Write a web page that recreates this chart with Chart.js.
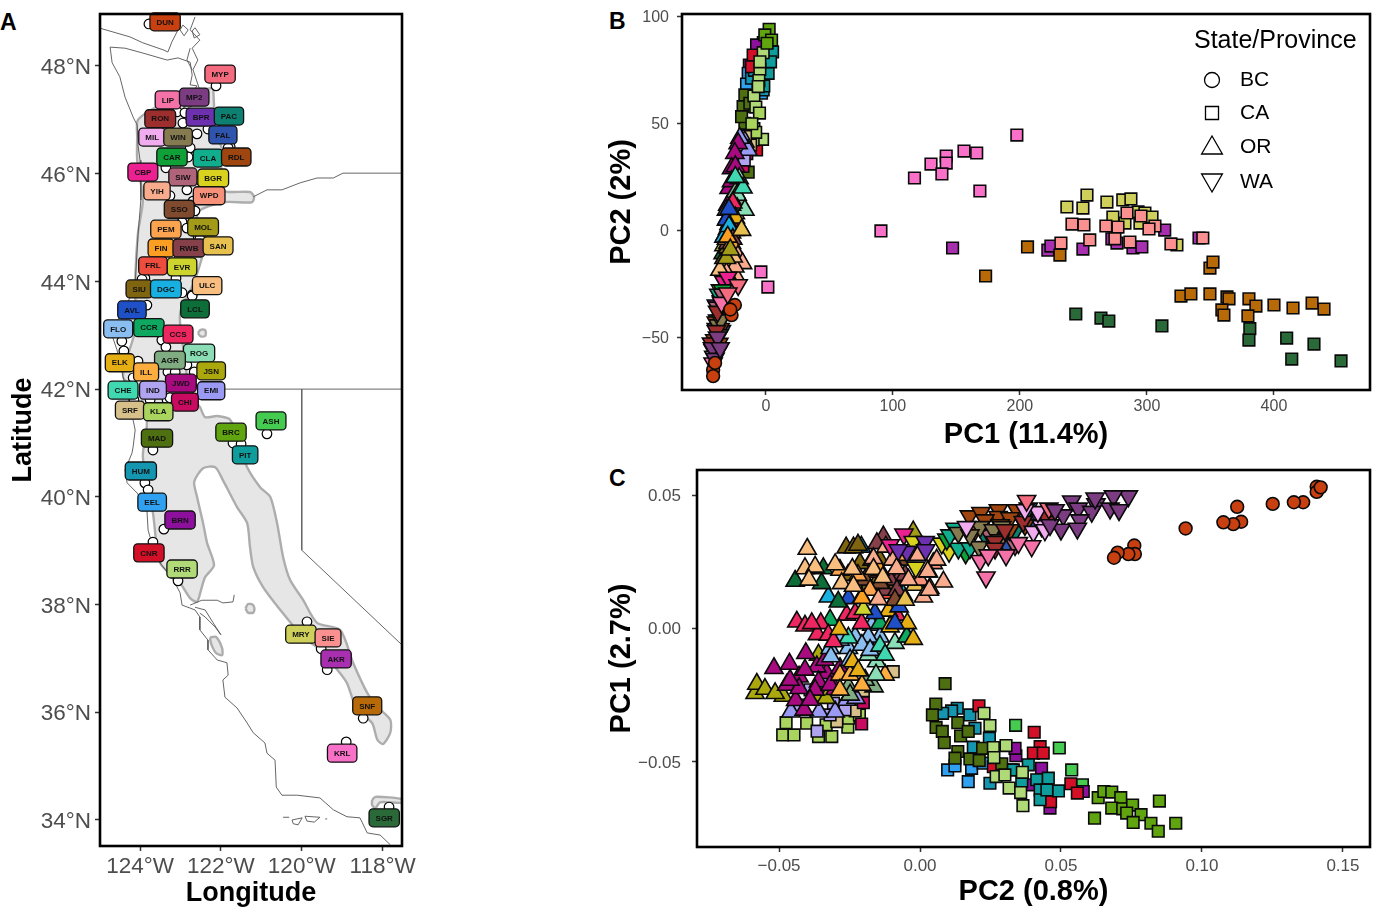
<!DOCTYPE html>
<html><head><meta charset="utf-8">
<script src="https://cdn.jsdelivr.net/npm/chart.js@4"></script>
<style>
html,body{margin:0;padding:0;background:#fff;width:1384px;height:917px;overflow:hidden}
canvas{position:absolute}
.letter{position:absolute;font:bold 23px "Liberation Sans",Arial,sans-serif;color:#000;line-height:26px}
</style></head><body>
<div class="letter" style="left:0;top:9px">A</div>
<div class="letter" style="left:609px;top:8px">B</div>
<div class="letter" style="left:609px;top:465px">C</div>
<canvas id="a" width="430" height="917" style="left:0;top:0"></canvas>
<canvas id="b" width="794" height="452" style="left:590px;top:0"></canvas>
<canvas id="c" width="794" height="462" style="left:590px;top:455px"></canvas>
<script>
// ---------- axis ticks ----------
var lonTicks=[-124,-122,-120,-118];
var lonTickLabels=['124°W','122°W','120°W','118°W'];
var latTicks=[34,36,38,40,42,44,46,48];
var latTickLabels=['34°N','36°N','38°N','40°N','42°N','44°N','46°N','48°N'];
var bxTicks=[0,100,200,300,400];
var byTicks=[-50,0,50,100];
var byTickLabels=['−50','0','50','100'];
var cxTicks=[-0.05,0,0.05,0.10,0.15];
var cxTickLabels=['−0.05','0.00','0.05','0.10','0.15'];
var cyTicks=[-0.05,0,0.05];
var cyTickLabels=['−0.05','0.00','0.05'];
// ---------- populations ----------
var popsBC=['DUN'];
var popsCA=['ASH','BRN','EEL','HUM','CNR','MAD','PIT','RRR','BRC','KLA','SRF','CHI','IND','KRL','AKR','SNF','SGR','MRY','SIE'];
var popsOR=['EMI','JSN','JWD','AGR','ILL','ROG','FLO','CHE','CCR','CCS','ELK','AVL','EVR','DGC','LCL','FRL','SIU','RWB','SSO','PEM','FIN','SAN','WPD','YIH','ULC','MOL'];
var popsWA=['CBP','BGR','BPR','CAR','CLA','PAC','FAL','SIW','RDL','WIN','RON','MIL','LIP','MYP','MP2'];
var popColors={DUN:'#C8400F',MYP:'#F46B7F',LIP:'#F472A8',MP2:'#7B3C82',RON:'#9C2E2E',BPR:'#6D31B0',PAC:'#0E8071',MIL:'#F0ACEF',WIN:'#857A50',FAL:'#2F54AD',CAR:'#0FA038',CLA:'#10AE8C',RDL:'#9E4510',CBP:'#EC2090',SIW:'#B0647A',BGR:'#D9D21E',YIH:'#F9AC8D',WPD:'#F79078',SSO:'#7F4A2E',PEM:'#FBA34F',MOL:'#A39B18',FIN:'#FB9E22',RWB:'#85404A',SAN:'#E8C050',FRL:'#EE4C3C',EVR:'#CDD42E',SIU:'#7F6510',DGC:'#18B0E0',ULC:'#F7BE80',LCL:'#0E6E3A',AVL:'#1F50C8',FLO:'#8BBEF0',CCR:'#0EA860',CCS:'#EE2760',ROG:'#8ADDB4',ELK:'#E5AE14',ILL:'#FBAD40',AGR:'#80AC82',JSN:'#ABA80E',JWD:'#A80A80',CHE:'#40D8B0',IND:'#B0A4F0',EMI:'#9A9AF5',CHI:'#C80A60',SRF:'#D8C08A',KLA:'#A9D45E',MAD:'#4F7010',BRC:'#60A410',ASH:'#45CC50',PIT:'#0E9C9C',HUM:'#1495B0',EEL:'#30A0F0',BRN:'#8C109C',CNR:'#D41028',RRR:'#B0DA78',MRY:'#CFD05C',SIE:'#FB9090',AKR:'#A830B0',SNF:'#B86A08',KRL:'#F870C8',SGR:'#2A6A38'};
// ---------- panel A: sampling sites [code, site lon, site lat, label lon, label lat] ----------
var siteRows=[
['DUN',-123.78,48.78,-123.38,48.82],['MYP',-122.12,47.63,-122.02,47.85],['LIP',-123.08,47.15,-123.31,47.37],['MP2',-122.89,47.13,-122.66,47.42],
['RON',-122.94,46.94,-123.50,47.02],['BPR',-122.32,46.83,-122.49,47.05],['PAC',-122.12,46.96,-121.80,47.07],['MIL',-123.38,46.77,-123.70,46.68],
['WIN',-122.59,46.74,-123.06,46.68],['FAL',-121.77,46.50,-121.95,46.72],['CAR',-122.76,46.48,-123.21,46.31],['CLA',-122.81,46.31,-122.32,46.29],
['RDL',-121.82,46.48,-121.62,46.31],['CBP',-123.36,46.11,-123.93,46.03],['SIW',-122.84,45.70,-122.94,45.94],['BGR',-122.52,45.88,-122.19,45.92],
['YIH',-123.26,45.59,-123.58,45.68],['WPD',-122.69,45.49,-122.29,45.59],['SSO',-122.64,45.31,-123.03,45.34],['PEM',-122.96,45.10,-123.36,44.97],
['MOL',-122.84,44.99,-122.44,45.01],['FIN',-123.26,44.44,-123.48,44.62],['RWB',-122.56,44.81,-122.79,44.62],['SAN',-122.52,44.79,-122.07,44.66],
['FRL',-123.88,44.06,-123.68,44.29],['EVR',-123.11,44.06,-122.96,44.27],['SIU',-123.95,44.04,-124.02,43.86],['DGC',-122.96,43.79,-123.36,43.86],
['ULC',-122.71,43.75,-122.34,43.92],['LCL',-122.71,43.73,-122.64,43.49],['AVL',-123.83,43.56,-124.20,43.47],['FLO',-124.45,42.89,-124.54,43.12],
['CCR',-123.46,42.91,-123.78,43.14],['CCS',-123.36,42.78,-123.06,43.02],['ROG',-122.84,42.45,-122.54,42.67],['ELK',-124.40,42.71,-124.50,42.49],
['AGR',-123.31,42.32,-123.26,42.54],['ILL',-124.05,42.52,-123.85,42.32],['JSN',-122.66,42.32,-122.24,42.34],['JWD',-123.13,42.32,-122.99,42.11],
['CHE',-124.17,42.21,-124.42,41.98],['IND',-123.33,41.80,-123.68,41.98],['EMI',-122.59,41.98,-122.24,41.97],['CHI',-123.26,41.84,-122.89,41.76],
['SRF',-124.15,41.80,-124.25,41.61],['KLA',-123.75,41.80,-123.55,41.58],['MAD',-123.68,40.87,-123.58,41.09],['ASH',-120.86,41.17,-120.76,41.41],
['BRC',-121.70,41.00,-121.75,41.20],['PIT',-121.50,40.98,-121.40,40.78],['HUM',-123.88,40.26,-123.98,40.48],['EEL',-123.80,40.13,-123.70,39.90],
['BRN',-123.41,39.40,-123.01,39.57],['CNR',-123.68,39.16,-123.78,38.96],['RRR',-123.06,38.44,-122.96,38.66],['MRY',-119.87,37.68,-120.02,37.45],
['SIE',-119.52,37.18,-119.35,37.38],['AKR',-119.37,36.79,-119.15,36.99],['SNF',-118.48,35.89,-118.38,36.12],['KRL',-118.90,35.45,-119.00,35.24],
['SGR',-117.84,34.24,-117.96,34.04]];
// ---------- panel A: map outlines (lon, lat) ----------
var mapRange=[[-122.19,47.59],[-122.17,47.28],[-122.14,46.81],[-121.97,46.44],[-121.97,45.70],[-121.28,45.66],[-121.18,45.57],[-121.23,45.47],[-121.95,45.47],[-122.59,45.27],[-122.39,44.77],[-122.64,44.03],[-122.99,43.47],[-123.01,43.23],[-122.89,42.54],[-122.76,41.89],[-122.52,41.67],[-122.39,41.48],[-122.09,41.50],[-121.77,41.43],[-121.53,40.96],[-121.35,40.55],[-121.03,40.18],[-120.78,40.0],[-120.61,39.51],[-120.46,38.88],[-120.29,38.46],[-119.97,38.09],[-119.62,37.66],[-119.05,37.53],[-118.73,36.92],[-118.38,36.36],[-118.13,36.10],[-117.81,35.86],[-117.81,35.62],[-117.99,35.41],[-118.13,35.49],[-118.26,35.80],[-118.63,36.04],[-118.88,36.54],[-119.12,36.79],[-119.55,37.16],[-119.97,37.40],[-120.53,37.90],[-120.96,38.33],[-121.20,38.70],[-121.28,39.07],[-121.35,39.51],[-121.60,39.81],[-121.95,40.31],[-122.14,40.55],[-122.44,40.53],[-122.66,40.28],[-122.59,40.0],[-122.44,39.51],[-122.34,39.14],[-122.17,38.73],[-122.39,38.51],[-122.47,38.33],[-122.59,38.05],[-122.76,38.12],[-123.01,38.40],[-123.50,38.77],[-123.68,39.70],[-123.93,40.74],[-123.83,41.37],[-124.0,41.89],[-124.42,42.23],[-124.12,43.10],[-124.12,43.97],[-124.05,44.90],[-123.93,45.51],[-124.07,46.25],[-124.07,46.68],[-124.05,47.0],[-123.50,47.28],[-122.76,47.52],[-122.19,47.59]];
var mapBlob1=[[-122.57,43.04],[-122.50,43.10],[-122.40,43.10],[-122.37,43.04],[-122.40,42.98],[-122.50,42.98],[-122.57,43.04]];
var mapBlob2=[[-121.39,37.93],[-121.33,38.01],[-121.22,38.0],[-121.17,37.93],[-121.2,37.85],[-121.33,37.85],[-121.39,37.93]];
var mapBlob3=[[-122.27,37.39],[-122.12,37.40],[-121.97,37.19],[-121.97,37.06],[-122.12,37.10],[-122.24,37.27],[-122.27,37.39]];
var mapBlob4=[[-118.26,34.37],[-118.18,34.43],[-117.52,34.39],[-117.52,34.32],[-118.06,34.33],[-118.18,34.22],[-118.26,34.28],[-118.26,34.37]];
var coastMain=[[-124.74,48.35],[-124.69,48.06],[-124.50,47.80],[-124.37,47.42],[-124.17,47.05],[-124.07,46.90],[-124.05,46.53],[-124.0,46.25],[-123.98,45.98],[-123.98,45.51],[-124.05,44.86],[-124.12,43.97],[-124.37,43.47],[-124.74,43.10],[-124.57,42.73],[-124.42,42.23],[-124.30,41.89],[-124.12,41.24],[-124.17,40.93],[-124.20,40.81],[-124.37,40.50],[-124.32,40.26],[-124.07,40.07],[-123.83,39.76],[-123.80,39.38],[-123.68,39.07],[-123.50,38.77],[-123.18,38.46],[-123.01,38.22],[-122.96,37.99],[-122.64,37.90],[-122.52,37.77],[-122.52,37.53],[-122.32,37.34],[-122.32,37.16],[-122.09,36.97],[-121.85,36.92],[-121.82,36.69],[-121.95,36.60],[-121.90,36.28],[-121.60,36.08],[-121.35,35.80],[-121.20,35.62],[-120.91,35.43],[-120.86,35.24],[-120.66,35.11],[-120.63,34.61],[-120.49,34.46],[-120.11,34.46],[-119.55,34.41],[-119.22,34.19],[-118.88,34.06],[-118.56,34.04],[-118.38,33.76],[-118.06,33.72],[-117.81,33.54]];
var coastVancouver=[[-125,48.72],[-124.94,48.69],[-124.25,48.54],[-123.93,48.43],[-123.43,48.30],[-123.31,48.26],[-123.21,48.45],[-123.06,48.67],[-123.26,48.89],[-123.5,48.97]];
var coastOlympic=[[-124.74,48.35],[-124.37,48.33],[-123.93,48.24],[-123.33,48.11],[-123.06,48.15],[-122.76,48.07],[-122.71,47.83],[-122.76,47.65],[-122.59,47.63],[-122.84,47.37],[-122.94,47.18],[-122.64,47.28],[-122.52,47.55],[-122.69,47.93],[-122.57,48.11],[-122.71,48.33],[-122.52,48.48],[-122.76,48.67],[-122.64,48.91]];
var coastSanJuan=[[-122.94,48.76],[-122.81,48.67],[-122.91,48.56],[-123.01,48.67],[-122.94,48.76]];
var coastFidalgo=[[-122.64,48.71],[-122.52,48.58],[-122.66,48.52],[-122.71,48.65],[-122.64,48.71]];
var coastWhidbey=[[-122.76,48.33],[-122.84,48.11],[-122.71,47.93]];
var coastBay1=[[-122.76,37.99],[-122.47,38.08],[-122.09,38.08],[-121.95,38.03],[-121.70,38.05],[-121.67,38.18]];
var coastBay2=[[-122.64,37.95],[-122.39,37.90],[-122.19,37.66],[-122.0,37.44],[-122.14,37.58],[-122.39,37.77],[-122.52,37.84]];
var isle1=[[-120.46,34.05],[-120.31,34.05]];
var isle2=[[-120.24,34.0],[-119.99,34.04],[-120.09,33.91],[-120.21,33.93],[-120.24,34.0]];
var isle3=[[-119.92,34.07],[-119.55,34.05],[-119.69,33.96],[-119.87,33.98],[-119.92,34.07]];
var isle4=[[-119.42,34.02],[-119.37,34.02]];
var borderColumbia=[[-121.20,45.57],[-120.86,45.70],[-120.49,45.70],[-120.04,45.83],[-119.62,45.92],[-119.22,45.92],[-118.98,46.01],[-117.52,46.01]];
var border42=[[-122.9,42.0],[-117.52,42.0]];
var borderNevada=[[-120.0,42.0],[-120.0,39.01],[-117.52,37.25]];
// ---------- panel B: PC1, PC2 per population ----------
var B_DUN=[[-24.4,-34.9],[-27,-39.6],[-28,-37],[-41.5,-65.3],[-41.5,-68.2],[-40,-62]];
var B_KRL=[[197.6,44.7],[166,36.3],[156,37.2],[142,34.9],[142,31.6],[130,31.1],[138.6,26.5],[117,24.6],[168.5,18.5],[90.6,-0.2],[-3.9,-19.4],[1.6,-26.5]];
var B_AKR=[[147,-8.2],[222,-9.2],[224.4,-7.3],[249.6,-8.7],[272.4,-3.9],[276.4,-5.9],[289,-8.2],[296,-7.7],[314,0.2],[341,-3.5]];
var B_SNF=[[173,-21.3],[206,-7.7],[231.5,-11.5],[349.6,-17.6],[352,-14.8],[326.8,-30.7],[334.6,-29.7],[349.6,-29.7],[363,-31.1],[364.6,-32],[359,-37.2],[360.6,-39.6],[380.3,-32],[385.8,-35.4],[379.5,-40],[400,-34.9],[415,-36.3],[430,-34],[439.4,-36.8]];
var B_SGR=[[244,-39.1],[263.8,-41],[270,-42.4],[311.8,-44.7],[381,-46],[380.3,-51.3],[410,-50.4],[431.5,-53.2],[414,-60.2],[452.8,-61.1]];
var B_MRY=[[237,11],[252.8,16.6],[249.6,10.5],[268.5,13.3],[281,14.3],[287.4,14.8],[273.2,6.3],[282.7,3.5],[293,8.7],[298.4,8.2],[304,6.3],[294.5,3.5],[323.6,-6.8]];
var B_SIE=[[241,3],[250.4,2.6],[232.3,-5.9],[255,-4.4],[267.7,2.1],[277.2,1.6],[284.3,8.2],[295.3,6.8],[306.3,2.1],[301.6,0.7],[274.8,-3.9],[286.6,-5.4],[318.9,-6.3],[344,-3.5]];
var B_BRC=[[2.6,94.2],[-0.8,91.6],[4.5,89.2],[1,87.7]];
var B_ASH=[[3.5,84],[-2,88]];
var B_PIT=[[5.3,83.7],[1.8,73.6],[-1.6,67.7],[3.7,79]];
var B_BRN=[[-7.3,86.9],[-8.7,81.4],[-13,77.5]];
var B_CNR=[[-10,82.2],[-11.3,76.7],[-7.3,37.7]];
var B_EEL=[[-13.9,73.6],[-15.2,68.6],[-3.4,64.3]];
var B_HUM=[[-11.3,71.3],[-2.1,65.8],[-9,75]];
var B_RRR=[[-2.1,83.3],[-4.7,75.5],[-5.5,70.2],[-9.4,63],[-7.9,57.8],[-9.4,47.7],[-2.6,42.7],[-4.7,79],[-6,67.4],[-10,42.4]];
var B_MAD=[[-16.5,63.5],[-17.9,58],[-16.5,50.2],[-13.9,27.3],[-12.6,59.6],[-19.1,53.3]];
var B_KLA=[[-8,46],[-5,55],[-11,50]];
var B_SRF=[[-12,40],[-16,44]];
var B_CHI=[[-15,36],[-18,30]];
var B_IND=[[-19,40],[-17,33]];
var B_JWD=[[-21.8,40.8],[-24.4,36.2],[-27,29.1],[-28.9,19.8],[-28.3,4.9],[-24,30],[-27,23],[-30,12]];
var B_EMI=[[-16.5,41.6],[-14,37.7],[-20.5,43.3]];
var B_JSN=[[-30,-5.9],[-24.4,0.2]];
var B_SAN=[[-19.1,0.2]];
var B_ROG=[[-21,24.4],[-22.6,16.6],[-22.6,10.4],[-16.5,9.6]];
var B_FLO=[[-30.2,0.6],[-31,9.6]];
var B_CHE=[[-18,20],[-24,25]];
var B_AGR=[[-24,18],[-20,12],[-25,5]];
var B_ILL=[[-21,2],[-24,8]];
var B_CCR=[[-30,6],[-27,12]];
var B_CCS=[[-28.9,-2.9],[-28,4],[-26,13],[-32,-2]];
var B_ELK=[[-27,-1],[-29,3],[-24,6]];
var B_AVL=[[-31,5],[-29,10]];
var B_EVR=[[-31,-10],[-33,-7]];
var B_DGC=[[-33,-3],[-29,2]];
var B_LCL=[[-33.6,-10.7]];
var B_FRL=[[-31,-14],[-28,-17]];
var B_SIU=[[-33,-13],[-30,-8]];
var B_RWB=[[-26,-4],[-30,-6]];
var B_SSO=[[-29,-12],[-26,-8]];
var B_PEM=[[-27,-10],[-31,-4]];
var B_FIN=[[-27,-6],[-30,-3]];
var B_WPD=[[-25,-22],[-29,-23],[-27,-14]];
var B_YIH=[[-22,-12],[-31,-16],[-24,-21],[-18.3,-15.4],[-24.4,-17],[-31,-20]];
var B_ULC=[[-25.7,-12.3],[-36.2,-18.5]];
var B_MOL=[[-31,-13],[-28,-9]];
var B_CBP=[[-33,-24],[-30,-22]];
var B_BGR=[[-35.7,-27.9]];
var B_BPR=[[-39,-35],[-35,-33]];
var B_CAR=[[-36,-37],[-34,-28]];
var B_CLA=[[-37,-30],[-33,-31]];
var B_PAC=[[-38,-42],[-34,-40]];
var B_FAL=[[-39,-46],[-35,-47]];
var B_SIW=[[-34,-30],[-38,-36]];
var B_RDL=[[-40.2,-51.3],[-41.5,-56],[-36,-46],[-39,-43],[-37,-53]];
var B_WIN=[[-34.9,-38.8],[-37.6,-44.3],[-36.8,-49],[-34,-35],[-35.5,-42]];
var B_RON=[[-42.8,-52.8],[-39,-47],[-38,-38]];
var B_MIL=[[-41,-59],[-38,-57]];
var B_LIP=[[-34.9,-33.8],[-41.5,-62.2]];
var B_MYP=[[-21.8,-25.5],[-30,-29.4]];
var B_MP2=[[-42,-55],[-38,-50],[-40,-60],[-36,-55]];
// ---------- panel C: PC2, PC1 per population ----------
var C_DUN=[[.1407,.0531],[.1407,.0512],[.1421,.0529],[.1359,.0473],[.1326,.0473],[.1251,.0467],[.1125,.0456],[.1139,.04],[.1111,.0391],[.1076,.0398],[.0942,.0375],[.076,.0311],[.0762,.0279],[.0739,.0279],[.0701,.0284],[.0688,.0265]];
var C_MP2=[[.0739,.0496],[.0686,.0496],[.0538,.0477],[.0624,.0466],[.0561,.045],[.0674,.045],[.0706,.0444],[.0609,.0438],[.0508,.0425],[.0567,.0406],[.05,.0371],[.0558,.0375],[.0621,.0488],[.0461,.0388],[.0479,.0444]];
var C_MYP=[[.0457,.045],[.0378,.0479]];
var C_LIP=[[.0396,.0309],[.0349,.0321],[.0234,.0192],[.0305,.0275],[.0213,.0254],[.0242,.0275]];
var C_MIL=[[.0402,.0363],[.0431,.0384],[.0418,.0437],[.0165,.0381],[.0443,.0369],[.0372,.0444]];
var C_RON=[[.0366,.04],[.0266,.0325],[.0266,.03],[.0455,.04],[.0301,.0369],[.0443,.0425]];
var C_WIN=[[.0136,.0359],[.0213,.0381],[.029,.0381],[.0209,.0306],[.026,.0369],[.0177,.035],[.0284,.0331]];
var C_RDL=[[.0175,.0421],[.0216,.0434],[.0278,.0444],[.0343,.0444],[.0319,.0369],[.0277,.0419],[.023,.0406],[.0319,.0414],[.0372,.0388],[.0284,.0388],[.0195,.0369]];
var C_SIW=[[.0337,.0313],[.0248,.035]];
var C_CAR=[[.0162,.0282],[.0095,.0334]];
var C_CLA=[[.0136,.03],[.0124,.0375],[.0106,.035],[.0177,.0301]];
var C_PAC=[[.0384,.045],[.0337,.0363],[.023,.035]];
var C_BGR=[[.0103,.0288],[.0077,.0319],[-.0015,.0229],[-.0024,.0325]];
var C_BPR=[[.0018,.0325],[-.0047,.0288],[-.0077,.0294],[.002,.0294]];
var C_FAL=[[.0307,.0313],[.0426,.0406],[.039,.0388]];
var C_ULC=[[-.04,.0298],[-.0408,.0225],[-.0372,.0231],[-.0301,.024],[-.0394,.0182],[-.0278,.0169],[-.024,.0223],[-.0165,.0223],[-.0236,.0159],[-.0132,.0192]];
var C_SIU=[[-.0262,.0303],[-.0236,.0303],[-.0213,.0244],[-.016,.0163],[-.0095,.0163],[-.0255,.02],[-.0191,.0144],[-.0142,.0257],[-.022,.0313]];
var C_LCL=[[-.0443,.0178],[-.0349,.0169],[-.029,.01],[-.0207,.0117],[-.0343,.0225]];
var C_DGC=[[-.0325,.0119],[-.0059,.0125],[-.0208,.0306]];
var C_RWB=[[-.013,.0344],[-.0153,.0319],[-.0071,.0194],[-.0106,.0182],[-.016,.0212],[-.0124,.0144],[-.0082,.0144],[-.0053,.02]];
var C_SSO=[[-.0195,.0182],[-.0142,.017],[-.0089,.0107],[-.017,.0257],[-.0071,.0257]];
var C_PEM=[[-.0284,.0219],[-.022,.02],[-.0177,.0144],[-.0053,.0275]];
var C_FIN=[[-.0206,.0114],[-.0142,.0219]];
var C_SAN=[[-.0053,.0107],[-.0018,.0163]];
var C_YIH=[[-.0121,.0306],[-.0165,.0263],[-.0097,.0257],[-.0083,.0225],[-.0041,.0182],[.003,.0213],[.0035,.0151],[.0083,.0175],[.0012,.0119],[-.0148,.0109],[-.0006,.0275],[.0059,.0257],[.0033,.0144],[.0027,.0213]];
var C_WPD=[[0,.0182],[.0047,.0244]];
var C_FRL=[[-.0106,.0132]];
var C_MOL=[[-.0024,.0363]];
var C_CBP=[[-.0057,.0353],[-.0106,.0313]];
var C_AVL=[[-.0254,.0113],[-.0074,.0082],[-.016,.0057],[-.0089,.0019]];
var C_EVR=[[-.0201,.0072]];
var C_ELK=[[-.0112,.0066],[-.0045,.0019],[-.0286,-.0003],[-.0024,-.004],[-.0106,.0007],[-.0239,-.0124],[-.0219,-.0158]];
var C_CCS=[[-.0437,.0025],[-.0408,.001],[-.0352,.0019],[-.0364,-.0022],[-.0325,-.0024],[-.026,.0051],[-.023,.0057],[-.0207,.0019],[-.0083,.0051],[-.0384,.0019],[-.0307,-.0049]];
var C_CCR=[[-.0319,.0032],[-.0142,.0019],[-.0047,-.0031]];
var C_CHE=[[-.0047,-.003],[-.0142,-.0065],[-.0254,-.0035],[-.0124,-.0099]];
var C_FLO=[[-.0171,.0013],[-.0142,-.0031],[-.0254,-.0074],[-.0319,-.0074],[-.0316,-.0105],[-.023,-.0031],[-.0183,-.0031],[-.0284,-.0043],[-.0206,-.0062],[-.0248,-.0118],[-.0177,-.0081]];
var C_ROG=[[-.0089,-.0055],[-.0183,-.0062],[-.0136,-.0081],[-.0154,-.0124],[-.0156,-.0174],[-.0183,-.0099]];
var C_ILL=[[-.0124,-.0174],[-.0284,-.0174],[-.0248,-.0174],[-.0206,-.0212],[-.0284,-.023]];
var C_AGR=[[-.0163,-.0218],[-.0254,-.0218],[-.0248,-.0249],[-.0195,-.0193]];
var C_JWD=[[-.0518,-.0149],[-.0463,-.0133],[-.0405,-.0093],[-.0429,-.0181],[-.0331,-.0168],[-.0366,-.0143],[-.0284,-.0149],[-.0473,-.0212],[-.036,-.0199],[-.0301,-.0228],[-.0441,-.0269],[-.0411,-.0305],[-.0429,-.0224],[-.0372,-.023],[-.0408,-.0155],[-.0461,-.0193],[-.039,-.0268],[-.0337,-.0118],[-.0319,-.0212]];
var C_JSN=[[-.0585,-.0243],[-.0579,-.0208],[-.055,-.0227],[-.0485,-.0253],[-.0514,-.0243],[-.0372,-.0253],[-.0333,-.0261],[-.036,-.0099]];
var C_EMI=[[-.026,-.0268],[-.0227,-.0261],[-.0358,-.0312],[-.0301,-.0312],[-.0458,-.0312]];
var C_IND=[[-.0337,-.0205],[-.0307,-.028],[-.0365,-.0385],[-.039,-.023],[-.0266,-.0305],[-.0319,-.0324],[-.0426,-.0287]];
var C_KLA=[[-.0475,-.0353],[-.0487,-.0399],[-.0447,-.0399],[-.036,-.0405],[-.0313,-.0405],[-.0402,-.0355],[-.0333,-.0361],[-.0256,-.037],[-.0254,-.0336],[-.0215,-.0324]];
var C_SRF=[[-.0095,-.0162],[-.0201,-.0233],[-.023,-.0309],[-.0295,-.0349]];
var C_CHI=[[-.0207,-.0358],[-.0201,-.0278]];
var C_MAD=[[.0089,-.0207],[.0056,-.0283],[.0044,-.0324],[.0057,-.0371],[.0079,-.0386],[.0086,-.0428],[.0134,-.0353],[.0144,-.0403],[.0171,-.0386],[.0134,-.0461],[.0124,-.0486],[.0177,-.0489],[.021,-.0495],[.0222,-.0449],[.029,-.0507]];
var C_HUM=[[.0132,-.0299],[.0112,-.0309],[.008,-.0318],[.0177,-.0324],[.0195,-.0374],[.0246,-.0411],[.0189,-.0445],[.0248,-.058],[.0325,-.053]];
var C_EEL=[[.0098,-.053],[.0124,-.0515],[.0171,-.0574],[.0183,-.0524],[.0224,-.0505]];
var C_CNR=[[.0209,-.029],[.0405,-.0389],[.0426,-.0443],[.0402,-.0467],[.0437,-.0467],[.0535,-.0582],[.0558,-.0617],[.0463,-.0649],[.026,-.0518]];
var C_BRN=[[.034,-.0477],[.0337,-.0449],[.0461,-.0673],[.0431,-.0524],[.039,-.0586],[.0579,-.0611]];
var C_ASH=[[.0339,-.0363],[.0494,-.0448],[.0538,-.053],[.0576,-.0586]];
var C_PIT=[[.0331,-.053],[.0361,-.0574],[.0414,-.0567],[.0455,-.0561],[.0426,-.0605],[.0491,-.0609],[.0426,-.0642],[.045,-.0605],[.0384,-.0511]];
var C_RRR=[[.0227,-.0318],[.0248,-.0364],[.026,-.0446],[.0305,-.0439],[.0262,-.0484],[.027,-.0555],[.0301,-.0549],[.0363,-.0539],[.0316,-.0598],[.0357,-.0615],[.0365,-.0664]];
var C_BRC=[[.0632,-.0634],[.0652,-.0611],[.068,-.0613],[.0712,-.0634],[.068,-.0673],[.0719,-.0676],[.0754,-.0662],[.0619,-.0711],[.0849,-.0647],[.0784,-.0698],[.0733,-.0692],[.0756,-.0727],[.0819,-.073],[.0845,-.076],[.0907,-.073]];
// ---------- legend ----------
var legendTitle='State/Province';
var legendLabels=['BC','CA','OR','WA'];

// ---------- drawing ----------
var FONT='"Liberation Sans",Arial,sans-serif';
function shapeOf(code){
  if(popsBC.indexOf(code)>=0) return {pointStyle:'circle',radius:6.4,rotation:0};
  if(popsCA.indexOf(code)>=0) return {pointStyle:'rect',radius:8.2,rotation:0};
  if(popsOR.indexOf(code)>=0) return {pointStyle:'triangle',radius:10.5,rotation:0};
  return {pointStyle:'triangle',radius:10.5,rotation:180};
}
function pcDatasets(prefix){
  var drawOrder=popsCA.concat(popsOR,popsWA,popsBC);
  var out=[];
  drawOrder.forEach(function(code,i){
    var rows=window[prefix+code]; if(!rows) return;
    var s=shapeOf(code);
    out.push({label:code,data:rows.map(function(r){return {x:r[0],y:r[1]};}),order:-i,
      pointStyle:s.pointStyle,pointRadius:s.radius,pointRotation:s.rotation,
      backgroundColor:popColors[code],borderColor:'#0a0a0a',pointBorderWidth:1.6,showLine:false});
  });
  return out;
}
function axis(pos,min,max,ticks,labels,size,tickFont,tickPad,title,titleFont,titlePad,labelShift){
  var o={type:'linear',position:pos,min:min,max:max,
    afterBuildTicks:function(s){s.ticks=ticks.map(function(v){return {value:v};});},
    afterFit:function(s){if(pos==='left')s.width=size;else s.height=size;
      s.paddingTop=0;s.paddingBottom=0;s.paddingLeft=0;s.paddingRight=0;},
    grid:{display:true,drawOnChartArea:false,drawTicks:true,tickLength:5,tickColor:'#333',tickWidth:1.5},
    border:{display:false},
    ticks:{autoSkip:false,maxRotation:0,minRotation:0,color:'#4d4d4d',padding:tickPad,labelOffset:labelShift||0,
      font:{family:FONT,size:tickFont},
      callback:function(v){var i=ticks.indexOf(v);return labels?labels[i]:String(v);}},
    title:{display:true,text:title,color:'#000',padding:{top:titlePad,bottom:titlePad},font:{family:FONT,size:titleFont,weight:'bold'}}
  };
  return o;
}
var boxPlugin={id:'box',afterDatasetsDraw:function(ch){
  var a=ch.chartArea,c=ch.ctx;c.save();c.strokeStyle='#000';c.lineWidth=2.6;
  c.strokeRect(a.left,a.top,a.right-a.left,a.bottom-a.top);c.restore();}};
var base={responsive:false,animation:false,devicePixelRatio:1,
  plugins:{legend:{display:false},tooltip:{enabled:false},title:{display:false}},
  layout:{autoPadding:false}};
function opts(pad,x,y){return Object.assign({},base,{layout:{autoPadding:false,padding:pad},scales:{x:x,y:y}});}

// panel A
var labelPlugin={id:'labels',afterDatasetsDraw:function(ch){
  var c=ch.ctx,xs=ch.scales.x,ys=ch.scales.y;c.save();
  c.font='bold 8px '+FONT;c.textAlign='center';c.textBaseline='middle';
  siteRows.forEach(function(r){
    var px=xs.getPixelForValue(r[3]),py=ys.getPixelForValue(r[4]);
    var w=c.measureText(r[0]).width+13,h=18;
    c.beginPath();c.roundRect(px-w/2,py-h/2,w,h,4);
    c.fillStyle=popColors[r[0]];c.fill();c.lineWidth=1.3;c.strokeStyle='#111';c.stroke();
    c.fillStyle='#111';c.fillText(r[0],px,py+0.5);
  });
  c.restore();}};
function poly(rows,fill){return {data:rows.map(function(r){return {x:r[0],y:r[1]};}),showLine:true,pointRadius:0,
  borderColor:'#adadad',borderWidth:2.4,backgroundColor:'#E6E6E6',fill:fill?'shape':false,tension:0.25};}
function line(rows,color,w){return {data:rows.map(function(r){return {x:r[0],y:r[1]};}),showLine:true,pointRadius:0,
  borderColor:color,borderWidth:w,fill:false,tension:0};}
var aSets=[poly(mapRange,true),poly(mapBlob1,true),poly(mapBlob2,true),poly(mapBlob3,true),poly(mapBlob4,true)];
[coastMain,coastVancouver,coastOlympic,coastSanJuan,coastFidalgo,coastWhidbey,coastBay1,coastBay2,isle1,isle2,isle3,isle4].forEach(function(r){aSets.push(line(r,'#555',0.9));});
[borderColumbia,border42,borderNevada].forEach(function(r){aSets.push(line(r,'#666',1));});
aSets.push({data:siteRows.map(function(r){return {x:r[1],y:r[2]};}),pointStyle:'circle',pointRadius:4.8,backgroundColor:'#fff',borderColor:'#000',pointBorderWidth:1.2,showLine:false});
aSets.forEach(function(d,i){d.order=-i;});
new Chart(document.getElementById('a'),{type:'scatter',data:{datasets:aSets},plugins:[labelPlugin,boxPlugin],
  options:opts({left:0,right:28,top:14,bottom:0},
    axis('bottom',-124.99,-117.52,lonTicks,lonTickLabels,71,22.5,2,'Longitude',27,6.8),
    axis('left',33.517,48.965,latTicks,latTickLabels,100,22.5,4,'Latitude',27,7,2))});

// panel B
var legendPlugin={id:'stateLegend',afterDatasetsDraw:function(ch){
  var c=ch.ctx,o=ch.canvas.offsetLeft;c.save();c.fillStyle='#000';c.textBaseline='middle';c.textAlign='left';
  c.font='25px '+FONT;c.fillText(legendTitle,1194-o,41);
  c.font='21px '+FONT;
  var ys=[80,113,147,182],st=[{s:'circle',r:7.5,a:0},{s:'rect',r:9.2,a:0},{s:'triangle',r:12,a:0},{s:'triangle',r:12,a:180}];
  legendLabels.forEach(function(t,i){
    c.fillStyle='#000';c.fillText(t,1240-o,ys[i]);
    c.fillStyle='#fff';c.strokeStyle='#000';c.lineWidth=1.3;
    Chart.helpers.drawPoint(c,{pointStyle:st[i].s,radius:st[i].r,rotation:st[i].a,borderWidth:1.3},1212-o,ys[i]+(st[i].s==='triangle'?(i===2?1:-2):0));
  });
  c.restore();}};
new Chart(document.getElementById('b'),{type:'scatter',data:{datasets:pcDatasets('B_')},plugins:[boxPlugin,legendPlugin],
  options:opts({left:0,right:14,top:14,bottom:0},
    axis('bottom',-66,475.6,bxTicks,null,62,16,2,'PC1 (11.4%)',29,0),
    axis('left',-74.7,101.4,byTicks,byTickLabels,92,16,8,'PC2 (2%)',29,14.9,1))});

// panel C
new Chart(document.getElementById('c'),{type:'scatter',data:{datasets:pcDatasets('C_')},plugins:[boxPlugin],
  options:opts({left:0,right:14,top:15,bottom:0},
    axis('bottom',-0.0791,0.1596,cxTicks,cxTickLabels,70,17,4,'PC2 (0.8%)',29,7.6),
    axis('left',-0.0819,0.0594,cyTicks,cyTickLabels,107,17,11,'PC1 (2.7%)',29,14.9,1))});
</script>
</body></html>
